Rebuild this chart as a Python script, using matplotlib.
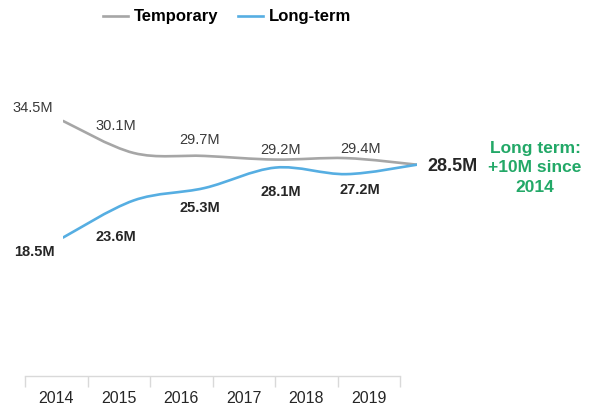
import numpy as np
import matplotlib
matplotlib.use("Agg")
import matplotlib.pyplot as plt
from matplotlib.path import Path
from matplotlib.patches import PathPatch
from matplotlib.lines import Line2D

plt.rcParams['font.family'] = ['Liberation Sans', 'DejaVu Sans']

# Data (millions of workers)
years = ["2014", "2015", "2016", "2017", "2018", "2019"]
temporary = [34.5, 30.1, 29.7, 29.2, 29.4, 28.5]
long_term = [18.5, 23.6, 25.3, 28.1, 27.2, 28.5]
note_lines = ["Long term:", "+10M since", "2014"]

GRAY = "#a6a6a6"
BLUE = "#56aee2"
GREEN = "#22a867"
DARK = "#262626"

W, H = 592, 411
fig = plt.figure(figsize=(W / 100, H / 100), dpi=100)


def px_box(x0, y0, x1, y1):
    """Figure-fraction rectangle from pixel corners (y measured from top)."""
    return [x0 / W, 1 - y1 / H, (x1 - x0) / W, (y1 - y0) / H]


YLIM = (-0.49, 42.86)

# Category axis with boundary ticks
ax = fig.add_axes(px_box(25, 60, 400, 376))
ax.set_xlim(-0.5, len(years) - 0.5)
ax.set_ylim(*YLIM)
for s in ("top", "left", "right"):
    ax.spines[s].set_visible(False)
ax.spines["bottom"].set_color("#d9d9d9")
ax.spines["bottom"].set_linewidth(1.0)
ax.set_yticks([])
ax.set_xticks(np.arange(len(years) + 1) - 0.5)
ax.set_xticklabels([])
ax.tick_params(axis="x", which="major", length=8, color="#d9d9d9", width=1.0)
ax.set_xticks(np.arange(len(years)), minor=True)
ax.set_xticklabels(years, minor=True, fontsize=11.5, color=DARK)
ax.tick_params(axis="x", which="minor", length=0, pad=11)
ax.patch.set_alpha(0)

# Overlay axes carrying the two series
lx = fig.add_axes(px_box(63, 60, 417, 376))
lx.set_xlim(0, len(years) - 1)
lx.set_ylim(*YLIM)
lx.axis("off")
lx.patch.set_alpha(0)


def smooth_path(xs, ys):
    """Catmull-Rom curve through the points, expressed as cubic Beziers."""
    pts = np.column_stack([xs, ys]).astype(float)
    n = len(pts)
    verts = [pts[0]]
    codes = [Path.MOVETO]
    for i in range(n - 1):
        p0 = pts[i - 1] if i > 0 else pts[i]
        p1 = pts[i]
        p2 = pts[i + 1]
        p3 = pts[i + 2] if i + 2 < n else pts[i + 1]
        c1 = p1 + (p2 - p0) / 6.0
        c2 = p2 - (p3 - p1) / 6.0
        verts += [c1, c2, p2]
        codes += [Path.CURVE4] * 3
    return Path(verts, codes)


idx = np.arange(len(years))
for series, color in ((temporary, GRAY), (long_term, BLUE)):
    patch = PathPatch(smooth_path(idx, series), facecolor="none",
                      edgecolor=color, lw=1.9, capstyle="round",
                      transform=lx.transData)
    lx.add_patch(patch)

# Value labels (offsets in pixels from each point)
temp_offsets = [(-30, 13), (-18, 27), (-5, 16), (5, 10), (14, 9)]
long_offsets = [(-29, -14), (-18, -37), (-5, -20), (5, -24), (14, -16)]
for i in range(len(years) - 1):
    lx.annotate(f"{temporary[i]}M", (i, temporary[i]),
                xytext=temp_offsets[i], textcoords="offset pixels",
                ha="center", va="center", fontsize=10.5, color="#3a3a3a")
    lx.annotate(f"{long_term[i]}M", (i, long_term[i]),
                xytext=long_offsets[i], textcoords="offset pixels",
                ha="center", va="center", fontsize=10.5, color=DARK,
                fontweight="bold")
last = len(years) - 1
lx.annotate(f"{temporary[last]}M", (last, temporary[last]),
            xytext=(35, -2), textcoords="offset pixels",
            ha="center", va="center", fontsize=13, color=DARK,
            fontweight="bold")

fig.text(535 / W, 1 - 168 / H, "\n".join(note_lines), ha="center",
         va="center", fontsize=12.5, color=GREEN, fontweight="bold",
         linespacing=1.38)

# Legend
handles = [Line2D([], [], color=GRAY, lw=1.9),
           Line2D([], [], color=BLUE, lw=1.9)]
fig.legend(handles, ["Temporary", "Long-term"], loc="center",
           bbox_to_anchor=(227 / W, 1 - 17 / H), ncol=2, frameon=False,
           prop={"size": 12, "weight": "bold"}, handlelength=1.5,
           handletextpad=0.35, columnspacing=1.2, borderpad=0)

fig.savefig("out.png", dpi=100, facecolor="white")
